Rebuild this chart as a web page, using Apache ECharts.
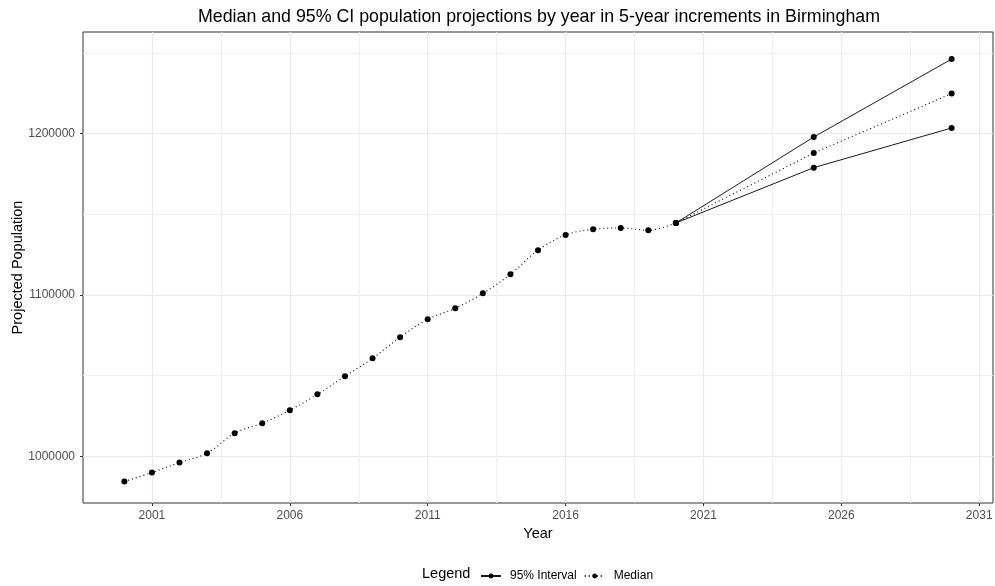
<!DOCTYPE html>
<html>
<head>
<meta charset="utf-8">
<script src="https://cdn.jsdelivr.net/npm/echarts@6/dist/echarts.min.js"></script>
<style>
html,body{margin:0;padding:0;background:#fff;}
#chart{width:995px;height:586px;}
</style>
</head>
<body>
<div id="chart"></div>
<script>
// Historical median (dotted, smoothed)
const histYears = [2000,2001,2002,2003,2004,2005,2006,2007,2008,2009,2010,2011,2012,2013,2014,2015,2016,2017,2018,2019,2020];
const histMedian = [984300,989900,996100,1001900,1014300,1020500,1028500,1038400,1049600,1060700,1073800,1084900,1091700,1101000,1112800,1127700,1137200,1140700,1141500,1140100,1144600];
// Projections
const projYears = [2020,2025,2030];
const projMedian = [1144600,1188000,1224800];
const projUpper = [1144600,1197900,1246200];
const projLower = [1144600,1178900,1203500];
// Axis ticks
const xMajor = [2001,2006,2011,2016,2021,2026,2031];
const xMinor = [2003.5,2008.5,2013.5,2018.5,2023.5,2028.5];
const yMajor = [1000000,1100000,1200000];
const yMinor = [1050000,1150000,1250000];

const pairs = (xs, ys) => xs.map((x, i) => [x, ys[i]]);
const FONT = '"Liberation Sans", Arial, sans-serif';
const xMin = 1998.5, xMax = 2031.5, yMin = 971000, yMax = 1263000;

const chart = echarts.init(document.getElementById('chart'), null, {renderer: 'canvas'});

const baseX = {type: 'value', min: xMin, max: xMax, gridIndex: 0};
const baseY = {type: 'value', min: yMin, max: yMax, gridIndex: 0};

const dotted = {color: '#000', width: 1.1, type: [1, 3]};
const solid = {color: '#1a1a1a', width: 1};

function lineSeries(name, data, style, smooth) {
  return {
    name: name, type: 'line', data: data, smooth: smooth,
    symbol: 'circle', symbolSize: 6,
    itemStyle: {color: '#000'},
    lineStyle: style,
    emphasis: {disabled: true},
    z: 3
  };
}

chart.setOption({
  animation: false,
  backgroundColor: '#fff',
  title: {
    text: 'Median and 95% CI population projections by year in 5-year increments in Birmingham',
    left: 534, top: 3, textAlign: 'center',
    textStyle: {fontFamily: FONT, fontSize: 17.8, fontWeight: 'normal', color: '#000'}
  },
  grid: {left: 83, top: 32, right: 2, bottom: 83, show: true, borderColor: '#333', borderWidth: 1, backgroundColor: '#fff', containLabel: false, outerBoundsMode: 'none'},
  legend: {
    left: 475, top: 565,
    itemWidth: 20, itemHeight: 6, itemGap: 7,
    textStyle: {fontFamily: FONT, fontSize: 12, color: '#000', padding: [0, 0, 0, 4]},
    data: ['95% Interval', 'Median']
  },
  graphic: [{
    type: 'text', left: 422, top: 566,
    style: {text: 'Legend', font: '14.5px ' + FONT, fill: '#000'}
  }],
  xAxis: [
    Object.assign({}, baseX, {
      name: 'Year', nameLocation: 'middle', nameGap: 22,
      nameTextStyle: {fontFamily: FONT, fontSize: 14.5, color: '#000'},
      axisLine: {show: false},
      axisTick: {show: true, length: 3, lineStyle: {color: '#333'}, customValues: xMajor},
      axisLabel: {customValues: xMajor, formatter: v => String(v), fontFamily: FONT, fontSize: 12, color: '#4d4d4d', margin: 7},
      splitLine: {show: true, lineStyle: {color: '#ebebeb', width: 1.2}}
    }),
    Object.assign({}, baseX, {
      axisLine: {show: false},
      axisTick: {show: false, customValues: xMinor},
      axisLabel: {show: false, customValues: xMinor},
      splitLine: {show: true, lineStyle: {color: '#f0f0f0', width: 1}}
    })
  ],
  yAxis: [
    Object.assign({}, baseY, {
      name: 'Projected Population', nameLocation: 'middle', nameGap: 58, nameRotate: 90,
      nameMoveOverlap: false,
      nameTextStyle: {fontFamily: FONT, fontSize: 14.5, color: '#000'},
      axisLine: {show: false},
      axisTick: {show: true, length: 3, lineStyle: {color: '#333'}, customValues: yMajor},
      axisLabel: {customValues: yMajor, formatter: v => String(v), fontFamily: FONT, fontSize: 12, color: '#4d4d4d', margin: 8},
      splitLine: {show: true, lineStyle: {color: '#ebebeb', width: 1.2}}
    }),
    Object.assign({}, baseY, {
      axisLine: {show: false},
      axisTick: {show: false, customValues: yMinor},
      axisLabel: {show: false, customValues: yMinor},
      splitLine: {show: true, lineStyle: {color: '#f0f0f0', width: 1}}
    })
  ],
  series: [
    lineSeries('95% Interval', pairs(projYears, projUpper), solid, false),
    lineSeries('95% Interval', pairs(projYears, projLower), solid, false),
    lineSeries('Median', pairs(histYears, histMedian), dotted, 0.35),
    lineSeries('Median', pairs(projYears, projMedian), dotted, false)
  ]
});
</script>
</body>
</html>
